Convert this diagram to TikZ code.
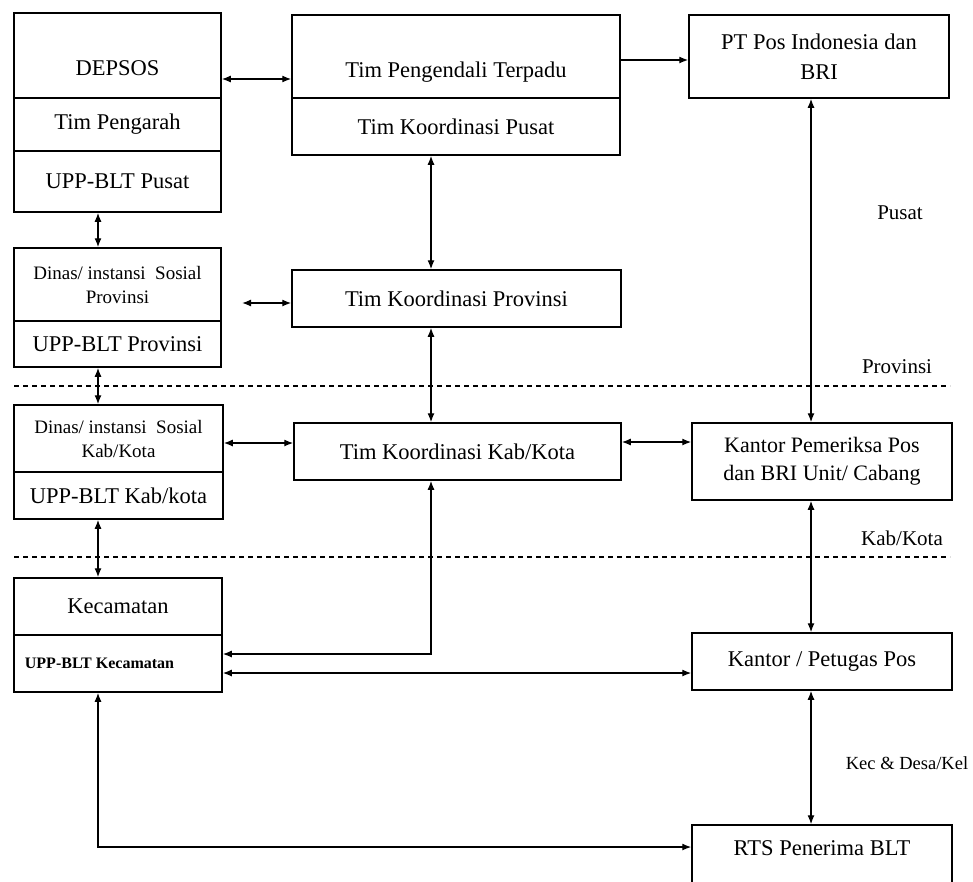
\documentclass[tikz,border=0pt]{standalone}
\usepackage{fontspec}
\setmainfont{Liberation Serif}
\usetikzlibrary{arrows.meta}

\begin{document}
\begin{tikzpicture}[x=1pt,y=-1pt]
\tikzstyle{every node}+=[inner sep=0pt]
\tikzstyle{box}=[draw=black, line width=1.5pt, rectangle, align=center, font=\fontsize{22.5}{30}\selectfont]
\tikzstyle{small}=[font=\fontsize{19}{24}\selectfont]
\tikzstyle{biarrow}=[black, line width=1.3pt, {Latex[length=9pt,width=7pt]}-{Latex[length=9pt,width=7pt]}]
\tikzstyle{onearrow}=[black, line width=1.3pt, -{Latex[length=9pt,width=7pt]}]
\tikzstyle{level}=[black, line width=1.3pt, dash pattern=on 5pt off 4pt]
\tikzstyle{levelname}=[font=\fontsize{21}{24}\selectfont]
\fill [white] (0,0) rectangle (973,881);
\useasboundingbox (0,0) rectangle (973,881);
\node [box, minimum width=207, minimum height=85, text height=40pt, text depth=0pt] (depsos) at (117.5,55.5) {DEPSOS};
\node [box, minimum width=207, minimum height=53] (pengarah) at (117.5,124.5) {Tim Pengarah};
\node [box, minimum width=207, minimum height=61] (uppPusat) at (117.5,181.5) {UPP-BLT Pusat};
\node [box, minimum width=328, minimum height=83, text height=42pt, text depth=0pt] (pengendali) at (456,56.5) {Tim Pengendali Terpadu};
\node [box, minimum width=328, minimum height=57] (koorPusat) at (456,126.5) {Tim Koordinasi Pusat};
\node [box, minimum width=260, minimum height=83] (ptpos) at (819,56.5) {PT Pos Indonesia dan\\BRI};
\node [box, small, minimum width=207, minimum height=73] (dinasProv) at (117.5,284.5) {Dinas/ instansi~~Sosial\\Provinsi};
\node [box, minimum width=207, minimum height=46] (uppProv) at (117.5,344) {UPP-BLT Provinsi};
\node [box, minimum width=329, minimum height=57] (koordProv) at (456.5,298.5) {Tim Koordinasi Provinsi};
\node [box, small, minimum width=209, minimum height=67] (dinasKab) at (118.5,438.5) {Dinas/ instansi~~Sosial\\Kab/Kota};
\node [box, minimum width=209, minimum height=47] (uppKab) at (118.5,495.5) {UPP-BLT Kab/kota};
\node [box, minimum width=327, minimum height=57] (koordKab) at (457.5,451.5) {Tim Koordinasi Kab/Kota};
\node [box, minimum width=260, minimum height=77, font=\fontsize{22}{28}\selectfont] (pemeriksa) at (822,461.5) {Kantor Pemeriksa Pos\\dan BRI Unit/ Cabang};
\node [box, minimum width=208, minimum height=57] (kec) at (118,606.5) {Kecamatan};
\node [box, minimum width=208, minimum height=57, font=\fontsize{16}{20}\selectfont\bfseries] (uppKec) at (118,663.5) {UPP-BLT Kecamatan\hspace*{37pt}};
\node [box, minimum width=260, minimum height=57] (petugas) at (822,661.5) {Kantor / Petugas Pos};
\node [box, minimum width=260, minimum height=70, text height=16pt, text depth=25pt] (rts) at (822,860) {RTS Penerima BLT};
\coordinate (colA) at (98,0);
\coordinate (colB) at (431,0);
\coordinate (colC) at (811,0);
\coordinate (provGap) at (242,303);
\draw [biarrow] (depsos.east |- 0,79) -- (pengendali.west |- 0,79);
\draw [onearrow] (pengendali.east |- 0,60) -- (ptpos.west |- 0,60);
\draw [biarrow] (uppPusat.south -| colA) -- (dinasProv.north -| colA);
\draw [biarrow] (koorPusat.south -| colB) -- (koordProv.north -| colB);
\draw [biarrow] (provGap) -- (koordProv.west |- provGap);
\draw [biarrow] (uppProv.south -| colA) -- (dinasKab.north -| colA);
\draw [biarrow] (koordProv.south -| colB) -- (koordKab.north -| colB);
\draw [biarrow] (ptpos.south -| colC) -- (pemeriksa.north -| colC);
\draw [biarrow] (dinasKab.east |- 0,443) -- (koordKab.west |- 0,443);
\draw [biarrow] (koordKab.east |- 0,442) -- (pemeriksa.west |- 0,442);
\draw [biarrow] (uppKab.south -| colA) -- (kec.north -| colA);
\draw [biarrow] (pemeriksa.south -| colC) -- (petugas.north -| colC);
\draw [biarrow] (koordKab.south -| colB) |- (uppKec.east |- 0,654);
\draw [biarrow] (uppKec.east |- 0,673) -- (petugas.west |- 0,673);
\draw [biarrow] (petugas.south -| colC) -- (rts.north -| colC);
\draw [biarrow] (uppKec.south -| colA) |- (rts.west |- 0,847);
\draw [level] (14,386) -- (950,386);
\draw [level] (14,557) -- (950,557);
\node [levelname] (lblPusat) at (900,213) {Pusat};
\node [levelname] (lblProv) at (897,367) {Provinsi};
\node [levelname] (lblKab) at (902,538) {Kab/Kota};
\node [levelname, font=\fontsize{18.5}{22}\selectfont] (lblKec) at (907,763) {Kec \& Desa/Kel};
\end{tikzpicture}
\end{document}
